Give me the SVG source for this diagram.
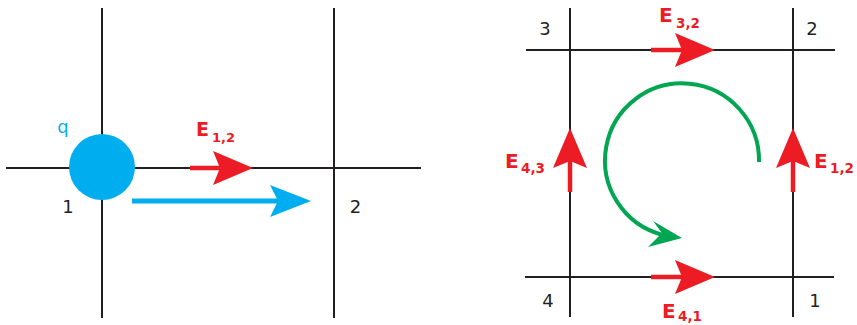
<svg xmlns="http://www.w3.org/2000/svg" width="857" height="325" viewBox="0 0 857 325">
<style>
.grid{stroke:#231f20;stroke-width:2;fill:none}
.lbl{font-family:"DejaVu Sans","Liberation Sans",sans-serif;font-size:18px;fill:#231f20}
.E{font-family:"DejaVu Sans","Liberation Sans",sans-serif;font-weight:bold;fill:#ed1c24}
.red{stroke:#ed1c24;stroke-width:4.5;fill:none}
.blue{stroke:#00aeef;stroke-width:5;fill:none}
.green{stroke:#00a651;stroke-width:4;fill:none}
</style>
<defs>
<marker id="hr" viewBox="-8 -18 42 36" refX="0" refY="0" markerWidth="42" markerHeight="36" markerUnits="userSpaceOnUse" orient="auto">
<path d="M0,0 L-7,-17 L33,0 L-7,17 Z" fill="#ed1c24"/>
</marker>
<marker id="hb" viewBox="-9 -17 43 34" refX="0" refY="0" markerWidth="43" markerHeight="34" markerUnits="userSpaceOnUse" orient="auto">
<path d="M0,0 L-8,-16 L33,0 L-8,16 Z" fill="#00aeef"/>
</marker>
</defs>
<g id="grid-left">
<line class="grid" x1="102" y1="8" x2="102" y2="318"/>
<line class="grid" x1="334" y1="8" x2="334" y2="318"/>
<line class="grid" x1="6" y1="168" x2="421" y2="168"/>
</g>
<g id="grid-right">
<line class="grid" x1="570" y1="8" x2="570" y2="317"/>
<line class="grid" x1="793" y1="8" x2="793" y2="317"/>
<line class="grid" x1="526" y1="50" x2="835" y2="50"/>
<line class="grid" x1="525" y1="277" x2="834" y2="277"/>
</g>
<g id="charge">
<circle cx="102" cy="167" r="33" fill="#00aeef"/>
<text x="63" y="133" text-anchor="middle" style="font-family:'DejaVu Sans','Liberation Sans',sans-serif;font-size:18px;fill:#00aeef">q</text>
</g>
<g id="labels">
<text class="lbl" x="68" y="213" text-anchor="middle">1</text>
<text class="lbl" x="355.5" y="213" text-anchor="middle">2</text>
<text class="lbl" x="545" y="35" text-anchor="middle">3</text>
<text class="lbl" x="812" y="35" text-anchor="middle">2</text>
<text class="lbl" x="548" y="307" text-anchor="middle">4</text>
<text class="lbl" x="815" y="307" text-anchor="middle">1</text>
<text class="E" x="196" y="136" font-size="19">E<tspan x="212" y="142" font-size="13">1,2</tspan></text>
<text class="E" x="659" y="22" font-size="20">E<tspan x="676" y="28" font-size="13.5">3,2</tspan></text>
<text class="E" x="505" y="168" font-size="20">E<tspan x="521" y="173" font-size="13.5">4,3</tspan></text>
<text class="E" x="814" y="168" font-size="20">E<tspan x="830" y="173" font-size="13.5">1,2</tspan></text>
<text class="E" x="662" y="318" font-size="20">E<tspan x="678" y="321" font-size="13.5">4,1</tspan></text>
</g>
<g id="connectors">
<line class="red" x1="190" y1="168" x2="220" y2="168" marker-end="url(#hr)"/>
<line class="blue" x1="132" y1="201" x2="278" y2="201" marker-end="url(#hb)"/>
<line class="red" x1="651" y1="50" x2="682" y2="50" marker-end="url(#hr)"/>
<line class="red" x1="651" y1="277" x2="682" y2="277" marker-end="url(#hr)"/>
<line class="red" x1="570" y1="192" x2="570" y2="161" marker-end="url(#hr)"/>
<line class="red" x1="793" y1="192" x2="793" y2="161" marker-end="url(#hr)"/>
<path class="green" d="M759,162 A77,77 0 1 0 663,235"/>
<path d="M662,233 L653,221 L682,238 L648,247 Z" fill="#00a651"/>
</g>
</svg>
